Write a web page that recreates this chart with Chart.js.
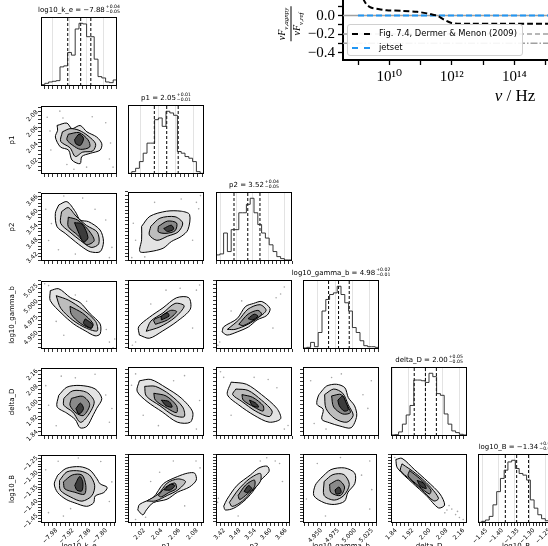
<!DOCTYPE html>
<html><head><meta charset="utf-8">
<script src="https://cdn.jsdelivr.net/npm/chart.js@4.4.1/dist/chart.umd.min.js"></script>
<style>
html,body{margin:0;padding:0;background:#fff;}
body{width:548px;height:546px;overflow:hidden;position:relative;font-family:"DejaVu Sans",sans-serif;color:#000;}
canvas{position:absolute;}
.ttl{position:absolute;font-size:7px;white-space:nowrap;line-height:11px;height:11px;transform:translateX(-50%);}
.ss{display:inline-block;vertical-align:middle;font-size:4.6px;line-height:4.8px;margin-left:1px;}
.ss span{display:block;}
.ylab{position:absolute;font-size:7px;white-space:nowrap;transform:translate(-50%,-50%) rotate(-90deg);}
.xlab{position:absolute;font-size:7px;white-space:nowrap;transform:translateX(-50%);}
.lg{position:absolute;left:347px;top:24px;width:174px;height:30px;background:rgba(255,255,255,0.9);border:1px solid #d0d0d0;border-radius:3px;font-size:8.4px;}
.lg .row{position:absolute;left:4px;height:12px;line-height:12px;white-space:nowrap;}
.lg .smp{display:inline-block;width:18px;height:0;border-top:2px dashed #000;vertical-align:middle;margin-right:9px;}
.frac{position:absolute;left:291px;top:24px;transform:translate(-50%,-50%) rotate(-90deg);font-family:"Liberation Serif",serif;font-style:italic;font-size:10px;text-align:center;line-height:10px;}
.frac .num{border-bottom:1px solid #000;padding:0 1px;}
.nul{position:absolute;left:515px;top:86px;transform:translateX(-50%);font-family:"Liberation Serif",serif;font-size:17px;white-space:nowrap;}
</style></head><body>
<script>
// ---------------- corner plot data ----------------
const paramNames = ['log10_k_e','p1','p2','log10_gamma_b','delta_D','log10_B'];
const axisMin = [-8.022, 2.006, 3.403, 4.929, 1.835, -1.465];
const axisMax = [-7.752, 2.092, 3.690, 5.038, 2.195, -1.227];
const majorTicks = [[-7.98,-7.92,-7.86,-7.80],[2.02,2.04,2.06,2.08],[3.42,3.48,3.54,3.60,3.66],[4.950,4.975,5.000,5.025],[1.84,1.92,2.00,2.08,2.16],[-1.45,-1.40,-1.35,-1.30,-1.25]];
const majorTickLabels = [['−7.98','−7.92','−7.86','−7.80'],['2.02','2.04','2.06','2.08'],['3.42','3.48','3.54','3.60','3.66'],['4.950','4.975','5.000','5.025'],['1.84','1.92','2.00','2.08','2.16'],['−1.45','−1.40','−1.35','−1.30','−1.25']];
const minorDiv = [4,4,4,4,4,5];
const q16 = [-7.927, 2.0358, 3.471, 4.9657, 1.945, -1.378];
const q50 = [-7.881, 2.0498, 3.523, 4.980, 1.998, -1.342];
const q84 = [-7.845, 2.0628, 3.569, 4.9953, 2.050, -1.304];
const titleValue = ['−7.88','2.05','3.52','4.98','2.00','−1.34'];
const titlePlus = ['+0.04','+0.01','+0.04','+0.02','+0.05','+0.04'];
const titleMinus = ['−0.05','−0.01','−0.05','−0.01','−0.05','−0.04'];

const hist_log10_k_e = [4, 8, 12, 14, 16, 57, 60, 100, 92, 170, 187, 185, 147, 147, 80, 28, 24, 12, 10, 18];
const hist_p1 = [2, 7, 17, 37, 62, 92, 92, 162, 167, 142, 187, 182, 175, 67, 62, 52, 47, 37, 7, 2];
const hist_p2 = [18, 21, 83, 28, 93, 93, 143, 143, 168, 186, 143, 108, 83, 68, 48, 28, 13, 7, 3, 3];
const hist_log10_gamma_b = [3, 5, 20, 7, 50, 115, 150, 165, 170, 190, 165, 140, 115, 65, 50, 25, 10, 7, 7, 5];
const hist_delta_D = [3, 4, 12, 35, 62, 90, 165, 165, 163, 158, 185, 175, 125, 120, 65, 35, 15, 10, 5, 3];
const hist_log10_B = [2, 5, 9, 20, 55, 95, 135, 160, 185, 190, 165, 150, 145, 130, 70, 45, 25, 13, 7, 5];
const histCounts = [hist_log10_k_e, hist_p1, hist_p2, hist_log10_gamma_b, hist_delta_D, hist_log10_B];

// contour outlines [2sigma, 1.5sigma, 1sigma, 0.5sigma], each a list of [x, y]
const cont_p1_k_e = [
 [[-7.965,2.067],[-7.930,2.070],[-7.912,2.063],[-7.883,2.067],[-7.859,2.059],[-7.824,2.0525],[-7.806,2.044],[-7.812,2.036],[-7.847,2.032],[-7.877,2.028],[-7.883,2.019],[-7.912,2.0235],[-7.924,2.036],[-7.953,2.040],[-7.971,2.0525],[-7.963,2.061]],
 [[-7.946,2.059],[-7.919,2.063],[-7.887,2.061],[-7.855,2.054],[-7.828,2.044],[-7.838,2.035],[-7.874,2.0335],[-7.900,2.028],[-7.919,2.039],[-7.952,2.047]],
 [[-7.925,2.056],[-7.887,2.058],[-7.855,2.049],[-7.849,2.040],[-7.882,2.037],[-7.909,2.042],[-7.930,2.049]],
 [[-7.903,2.049],[-7.887,2.056],[-7.871,2.051],[-7.882,2.042],[-7.898,2.044]]];
const scat_p1_k_e = [[-8.000,2.0774],[-7.944,2.0765],[-7.779,2.0249],[-7.860,2.0146],[-7.987,2.0361],[-7.792,2.0705],[-7.766,2.0146],[-7.955,2.0850],[-7.990,2.0600],[-7.840,2.0780],[-7.905,2.0120],[-7.775,2.0450],[-7.930,2.0180]];

const cont_p2_k_e = [
 [[-7.959,3.638],[-7.930,3.652],[-7.900,3.610],[-7.883,3.575],[-7.853,3.568],[-7.812,3.533],[-7.800,3.484],[-7.812,3.442],[-7.847,3.442],[-7.877,3.463],[-7.900,3.484],[-7.936,3.519],[-7.965,3.547],[-7.971,3.603]],
 [[-7.949,3.610],[-7.925,3.627],[-7.898,3.592],[-7.860,3.552],[-7.822,3.524],[-7.817,3.475],[-7.844,3.460],[-7.882,3.489],[-7.919,3.524],[-7.952,3.561]],
 [[-7.925,3.587],[-7.892,3.575],[-7.855,3.535],[-7.833,3.489],[-7.860,3.472],[-7.892,3.512],[-7.925,3.547]],
 [[-7.903,3.564],[-7.876,3.558],[-7.855,3.501],[-7.871,3.483],[-7.887,3.518]]];
const scat_p2_k_e = [[-7.874,3.667],[-7.941,3.676],[-7.779,3.417],[-7.995,3.489],[-7.792,3.575],[-7.900,3.432],[-8.005,3.620],[-7.770,3.460],[-7.830,3.620],[-7.960,3.450],[-7.985,3.560]];

const cont_p2_p1 = [
 [[2.0214,3.547],[2.0308,3.589],[2.0495,3.610],[2.0664,3.610],[2.0757,3.596],[2.0738,3.533],[2.0662,3.505],[2.0551,3.484],[2.0457,3.456],[2.0308,3.442],[2.0195,3.442],[2.0214,3.491]],
 [[2.0318,3.547],[2.0421,3.581],[2.0593,3.587],[2.0679,3.561],[2.0628,3.524],[2.0507,3.506],[2.0387,3.489],[2.0301,3.512]],
 [[2.0404,3.547],[2.0507,3.569],[2.0610,3.561],[2.0593,3.529],[2.0490,3.518],[2.0404,3.524]],
 [[2.0464,3.538],[2.0550,3.552],[2.0576,3.535],[2.0507,3.526]]];
const scat_p2_p1 = [[2.0146,3.489],[2.0834,3.647],[2.0791,3.489],[2.0361,3.647],[2.0103,3.417],[2.0662,3.661],[2.0860,3.620],[2.0120,3.560],[2.0880,3.675],[2.0250,3.420]];

const cont_gamma_k_e = [
 [[-7.989,5.022],[-7.959,5.025],[-7.918,5.011],[-7.883,5.003],[-7.847,4.985],[-7.812,4.969],[-7.812,4.953],[-7.830,4.950],[-7.865,4.958],[-7.906,4.969],[-7.947,4.985],[-7.989,5.006]],
 [[-7.968,5.014],[-7.925,5.007],[-7.874,4.992],[-7.828,4.973],[-7.822,4.958],[-7.860,4.962],[-7.909,4.975],[-7.952,4.994]],
 [[-7.919,4.997],[-7.874,4.986],[-7.838,4.970],[-7.844,4.962],[-7.882,4.970],[-7.914,4.984]],
 [[-7.865,4.977],[-7.838,4.968],[-7.844,4.962],[-7.871,4.970]]];
const scat_gamma_k_e = [[-7.779,4.940],[-8.009,5.033],[-7.860,5.005],[-7.941,4.951],[-7.766,4.931],[-7.968,4.973],[-7.790,4.960],[-7.995,5.030],[-7.760,4.945],[-7.900,5.015]];

const cont_gamma_p1 = [
 [[2.0189,4.951],[2.0301,4.946],[2.0447,4.957],[2.0619,4.973],[2.0765,4.992],[2.0748,5.010],[2.0610,5.010],[2.0456,4.994],[2.0301,4.979],[2.0180,4.964]],
 [[2.0266,4.957],[2.0421,4.964],[2.0593,4.979],[2.0696,4.997],[2.0593,5.001],[2.0456,4.986],[2.0318,4.973]],
 [[2.0370,4.968],[2.0507,4.975],[2.0610,4.988],[2.0542,4.990],[2.0438,4.981],[2.0352,4.975]],
 [[2.0438,4.975],[2.0524,4.981],[2.0507,4.986],[2.0438,4.981]]];
const scat_gamma_p1 = [[2.0146,4.940],[2.0834,5.022],[2.0490,5.022],[2.0318,5.000],[2.0791,4.962],[2.0870,5.030],[2.0110,4.935],[2.0650,5.025]];

const cont_gamma_p2 = [
 [[3.426,4.956],[3.432,4.964],[3.483,4.977],[3.514,4.996],[3.545,5.001],[3.576,5.004],[3.607,4.993],[3.595,4.982],[3.558,4.975],[3.526,4.964],[3.483,4.956],[3.445,4.951]],
 [[3.446,4.960],[3.489,4.975],[3.524,4.992],[3.569,4.999],[3.592,4.990],[3.561,4.978],[3.524,4.968],[3.475,4.960]],
 [[3.489,4.968],[3.524,4.984],[3.561,4.990],[3.575,4.984],[3.547,4.975],[3.506,4.966]],
 [[3.524,4.977],[3.547,4.984],[3.561,4.981],[3.541,4.975]]];
const scat_gamma_p2 = [[3.417,4.940],[3.460,4.989],[3.647,5.016],[3.618,4.962],[3.661,5.027],[3.630,5.010],[3.410,4.935],[3.500,5.005]];

const cont_delta_k_e = [
 [[-7.959,2.049],[-7.930,2.092],[-7.883,2.101],[-7.830,2.083],[-7.806,2.032],[-7.824,1.981],[-7.836,1.947],[-7.859,1.886],[-7.883,1.878],[-7.900,1.921],[-7.930,1.955],[-7.965,1.989]],
 [[-7.941,2.033],[-7.909,2.073],[-7.860,2.065],[-7.833,2.015],[-7.855,1.943],[-7.882,1.907],[-7.909,1.961],[-7.941,1.997]],
 [[-7.914,2.033],[-7.874,2.044],[-7.849,2.001],[-7.871,1.943],[-7.898,1.957],[-7.919,1.997]],
 [[-7.898,1.979],[-7.882,2.008],[-7.871,1.979],[-7.887,1.950]]];
const scat_delta_k_e = [[-7.995,1.997],[-7.792,2.051],[-7.900,2.141],[-7.968,1.889],[-7.779,1.907],[-7.950,2.150],[-7.770,1.980],[-8.005,2.100],[-7.830,2.160]];

const cont_delta_p1 = [
 [[2.0189,2.123],[2.0318,2.130],[2.0490,2.087],[2.0662,2.033],[2.0791,1.961],[2.0765,1.907],[2.0619,1.907],[2.0447,1.961],[2.0275,2.015],[2.0163,2.069]],
 [[2.0249,2.094],[2.0370,2.094],[2.0533,2.051],[2.0679,1.986],[2.0696,1.936],[2.0576,1.943],[2.0421,1.993],[2.0266,2.044]],
 [[2.0352,2.058],[2.0490,2.044],[2.0610,1.993],[2.0610,1.957],[2.0507,1.979],[2.0370,2.022]],
 [[2.0438,2.022],[2.0524,2.015],[2.0559,1.986],[2.0490,1.993]]];
const scat_delta_p1 = [[2.0146,2.159],[2.0834,1.871],[2.0404,1.889],[2.0576,2.123],[2.0232,1.943],[2.0870,2.020],[2.0100,2.100],[2.0700,2.150]];

const cont_delta_p2 = [
 [[3.460,2.116],[3.518,2.105],[3.575,2.051],[3.633,1.979],[3.647,1.925],[3.604,1.907],[3.547,1.943],[3.489,1.997],[3.446,2.051]],
 [[3.478,2.080],[3.524,2.073],[3.575,2.022],[3.615,1.965],[3.604,1.936],[3.552,1.965],[3.501,2.015],[3.466,2.051]],
 [[3.501,2.051],[3.541,2.037],[3.581,1.993],[3.581,1.965],[3.547,1.986],[3.506,2.022]],
 [[3.529,2.022],[3.552,2.008],[3.564,1.986],[3.541,1.993]]];
const scat_delta_p2 = [[3.432,2.141],[3.661,1.871],[3.547,2.141],[3.460,1.943],[3.633,2.087],[3.420,2.170],[3.675,1.890],[3.600,2.130]];

const cont_delta_gamma = [
 [[4.956,2.070],[4.963,2.096],[4.977,2.105],[4.989,2.087],[4.994,2.035],[5.003,1.992],[5.006,1.939],[4.998,1.878],[4.982,1.887],[4.967,1.904],[4.956,1.922],[4.958,1.974],[4.949,2.000],[4.951,2.044]],
 [[4.960,2.051],[4.973,2.080],[4.986,2.058],[4.994,1.997],[5.001,1.943],[4.992,1.907],[4.975,1.925],[4.962,1.979]],
 [[4.970,2.044],[4.984,2.051],[4.992,1.997],[4.997,1.957],[4.986,1.950],[4.973,1.986]],
 [[4.979,2.022],[4.986,2.044],[4.990,2.015],[4.994,1.972],[4.988,1.965],[4.981,1.993]]];
const scat_delta_gamma = [[5.022,1.979],[4.940,2.123],[4.984,2.159],[4.962,1.871],[5.027,2.123],[4.970,2.140],[5.015,2.050],[4.945,1.900]];

const cont_B_k_e = [
 [[-7.962,-1.299],[-7.931,-1.275],[-7.882,-1.269],[-7.845,-1.281],[-7.820,-1.311],[-7.808,-1.329],[-7.783,-1.341],[-7.795,-1.359],[-7.826,-1.371],[-7.832,-1.395],[-7.857,-1.407],[-7.900,-1.395],[-7.931,-1.383],[-7.962,-1.359],[-7.974,-1.329]],
 [[-7.955,-1.317],[-7.928,-1.287],[-7.882,-1.284],[-7.847,-1.298],[-7.828,-1.334],[-7.838,-1.370],[-7.874,-1.389],[-7.914,-1.375],[-7.952,-1.351]],
 [[-7.941,-1.322],[-7.909,-1.298],[-7.874,-1.298],[-7.860,-1.334],[-7.865,-1.365],[-7.900,-1.358],[-7.936,-1.346]],
 [[-7.900,-1.334],[-7.882,-1.303],[-7.871,-1.322],[-7.874,-1.353],[-7.892,-1.351]]];
const scat_B_k_e = [[-7.995,-1.429],[-7.766,-1.322],[-7.887,-1.239],[-7.941,-1.441],[-7.806,-1.251],[-7.915,-1.415],[-8.005,-1.280],[-7.775,-1.390],[-7.960,-1.250]];

const cont_B_p1 = [
 [[2.0171,-1.420],[2.0191,-1.401],[2.0347,-1.377],[2.0465,-1.329],[2.0622,-1.305],[2.0739,-1.293],[2.0818,-1.293],[2.0837,-1.317],[2.0759,-1.341],[2.0622,-1.359],[2.0504,-1.383],[2.0347,-1.395],[2.0269,-1.420],[2.0229,-1.437]],
 [[2.0275,-1.389],[2.0404,-1.365],[2.0507,-1.327],[2.0628,-1.313],[2.0714,-1.322],[2.0628,-1.351],[2.0507,-1.370],[2.0370,-1.389]],
 [[2.0404,-1.370],[2.0490,-1.341],[2.0593,-1.327],[2.0610,-1.346],[2.0524,-1.360],[2.0438,-1.375]],
 [[2.0473,-1.351],[2.0542,-1.332],[2.0593,-1.336],[2.0542,-1.351]]];
const scat_B_p1 = [[2.0146,-1.453],[2.0834,-1.251],[2.0576,-1.251],[2.0318,-1.322],[2.0705,-1.406],[2.0260,-1.445],[2.0880,-1.275],[2.0420,-1.290]];

const cont_B_p2 = [
 [[3.433,-1.407],[3.446,-1.383],[3.485,-1.335],[3.537,-1.299],[3.570,-1.275],[3.602,-1.269],[3.609,-1.287],[3.577,-1.317],[3.544,-1.359],[3.511,-1.390],[3.472,-1.414],[3.439,-1.420]],
 [[3.455,-1.394],[3.489,-1.351],[3.532,-1.313],[3.575,-1.294],[3.575,-1.322],[3.541,-1.356],[3.506,-1.389],[3.466,-1.408]],
 [[3.489,-1.370],[3.518,-1.334],[3.552,-1.317],[3.552,-1.341],[3.524,-1.365],[3.495,-1.384]],
 [[3.512,-1.356],[3.529,-1.336],[3.541,-1.346],[3.524,-1.360]]];
const scat_B_p2 = [[3.409,-1.394],[3.633,-1.251],[3.575,-1.251],[3.489,-1.441],[3.661,-1.322],[3.412,-1.380],[3.650,-1.260],[3.600,-1.240]];

const cont_B_gamma = [
 [[4.955,-1.311],[4.970,-1.281],[4.990,-1.275],[5.005,-1.293],[5.005,-1.329],[4.995,-1.359],[4.990,-1.390],[4.975,-1.401],[4.960,-1.395],[4.945,-1.371],[4.947,-1.335]],
 [[4.960,-1.322],[4.973,-1.298],[4.989,-1.298],[4.997,-1.332],[4.989,-1.370],[4.975,-1.386],[4.960,-1.370]],
 [[4.968,-1.332],[4.981,-1.317],[4.990,-1.341],[4.984,-1.370],[4.970,-1.360]],
 [[4.976,-1.351],[4.982,-1.341],[4.985,-1.360],[4.978,-1.365]]];
const scat_B_gamma = [[4.934,-1.382],[5.027,-1.251],[4.984,-1.239],[4.962,-1.441],[5.027,-1.417],[5.015,-1.300],[4.950,-1.260],[5.030,-1.350]];

const cont_B_delta = [
 [[1.858,-1.246],[1.887,-1.242],[1.945,-1.280],[2.009,-1.322],[2.067,-1.365],[2.089,-1.403],[2.060,-1.413],[2.002,-1.370],[1.937,-1.327],[1.865,-1.275]],
 [[1.887,-1.261],[1.952,-1.294],[2.017,-1.337],[2.060,-1.380],[2.038,-1.389],[1.981,-1.351],[1.923,-1.313],[1.880,-1.284]],
 [[1.923,-1.284],[1.973,-1.313],[2.024,-1.351],[2.017,-1.365],[1.966,-1.337],[1.916,-1.303]],
 [[1.959,-1.318],[1.988,-1.327],[2.002,-1.346],[1.973,-1.337]]];
const scat_B_delta = [[2.141,-1.436],[2.159,-1.446],[2.123,-1.417],[1.853,-1.239],[2.177,-1.453],[2.100,-1.420],[2.110,-1.405],[2.150,-1.425],[2.090,-1.430]];

// ---------------- inset (SED ratio) data ----------------
const dmLogNu = [8.8, 9.0, 9.26, 9.43, 9.59, 9.91, 10.45, 10.89, 11.21, 11.43, 11.54, 11.75, 11.97, 12.18, 12.6, 13.5, 14.5, 15.5, 16.3];
const dmRatio = [0.45, 0.30, 0.125, 0.085, 0.074, 0.058, 0.051, 0.041, 0.024, 0.007, 0.0, -0.044, -0.078, -0.088, -0.089, -0.089, -0.089, -0.089, -0.089];
const jetsetLogNu = [9.0, 16.5];
const jetsetRatio = [0.0, 0.0];
const refLevels = [0.0, 0.2, -0.2, 0.3, -0.3];
const insetYTicks = [-0.4, -0.2, 0.0];
const insetYTickLabels = ['−0.4', '−0.2', '0.0'];
const insetXTicksExp = [10, 12, 14, 16];
const insetXTickLabels = ['10¹⁰', '10¹²', '10¹⁴', '10¹⁶'];

// ---------------- layout ----------------
const colX = [41, 128, 216, 303, 391, 478];
const rowY = [17, 105, 192, 280, 367, 454];
const PW = 76, PH = 69, ML = 38, MT = 4, MR = 4, MB = 30;

Chart.defaults.font.family = '"DejaVu Sans", sans-serif';

const frame = {id:'frame', afterDatasetsDraw(chart){
  const a = chart.chartArea, ctx = chart.ctx;
  ctx.save(); ctx.strokeStyle = '#000'; ctx.lineWidth = 1;
  ctx.strokeRect(Math.round(a.left)+0.5, Math.round(a.top)+0.5, Math.round(a.right-a.left)-1, Math.round(a.bottom-a.top)-1);
  ctx.restore();
}};

function tickObjs(i){
  const maj = majorTicks[i], labs = majorTickLabels[i], d = minorDiv[i];
  const step = (maj[1]-maj[0])/d;
  const out = [];
  const kmin = Math.ceil((axisMin[i]-maj[0])/step - 1e-9);
  const kmax = Math.floor((axisMax[i]-maj[0])/step + 1e-9);
  for (let k = kmin; k <= kmax; k++) {
    const v = maj[0] + k*step;
    let lab = '';
    if (((k % d) + d) % d === 0) { const j = Math.round(k/d); if (j >= 0 && j < labs.length) lab = labs[j]; }
    out.push({value: v, lab});
  }
  return out;
}

function pts(arr){ return arr.map(p => ({x:p[0], y:p[1]})); }

function polyDs(poly, col, ord){
  const d = pts(poly); d.push({x:poly[0][0], y:poly[0][1]});
  return {data:d, fill:'shape', backgroundColor:col, borderColor:'#000', borderWidth:1, pointRadius:0, tension:0.3, order:ord};
}

function contourDatasets(cont, scat){
  const fills = ['#e3e3e3', '#bdbdbd', '#8a8a8a', '#3c3c3c'];
  const ds = [];
  // lower "order" is drawn on top: innermost (k=3) gets order 0
  for (let k = 3; k >= 0; k--) ds.push(polyDs(cont[k], fills[k], 3 - k));
  ds.push({data:pts(scat), showLine:false, pointRadius:0.8, pointBackgroundColor:'rgba(0,0,0,0.35)', pointBorderWidth:0, order:5});
  return ds;
}

function histDatasets(i){
  const c = histCounts[i], n = c.length, lo = axisMin[i], hi = axisMax[i];
  const w = (hi-lo)/n;
  const d = [{x:lo, y:0}];
  for (let b = 0; b < n; b++) d.push({x: lo + b*w, y: c[b]});
  d.push({x: hi, y: c[n-1]}); d.push({x: hi, y: 0});
  const top = 1.1*Math.max(...c);
  const ds = [{data:d, stepped:true, borderColor:'#222', borderWidth:0.9, pointRadius:0, fill:false}];
  [q16[i], q50[i], q84[i]].forEach(q => ds.push({data:[{x:q,y:0},{x:q,y:top}], borderColor:'#000', borderWidth:1, borderDash:[3,2], pointRadius:0, fill:false}));
  return {ds, top};
}

function makePanel(r, c, datasets, diag, yTop){
  const cv = document.createElement('canvas');
  cv.width = PW+ML+MR; cv.height = PH+MT+MB;
  cv.style.left = (colX[c]-ML)+'px'; cv.style.top = (rowY[r]-MT)+'px';
  document.body.appendChild(cv);
  const xi = c;
  const yScale = diag ? {
      type:'linear', min:0, max:yTop, afterFit:s=>{s.width = ML;},
      ticks:{display:false}, grid:{display:false}, border:{display:false}
    } : {
      type:'linear', min:axisMin[r], max:axisMax[r],
      afterBuildTicks:s=>{s.ticks = tickObjs(r);}, afterFit:s=>{s.width = ML;},
      ticks:{display:c===0, autoSkip:false, minRotation:45, maxRotation:45, font:{size:6}, color:'#000', padding:1, labelOffset:-4,
             callback:(v,i,t)=>t[i].lab||''},
      grid:{drawOnChartArea:false, tickColor:'#000', tickLength:3, tickWidth:0.8}, border:{display:false}
    };
  new Chart(cv, {
    type:'line',
    data:{datasets},
    options:{
      responsive:false, animation:false, devicePixelRatio:1, events:[],
      layout:{padding:{left:0, top:MT, right:MR, bottom:0}},
      plugins:{legend:{display:false}, tooltip:{enabled:false}},
      scales:{
        x:{type:'linear', min:axisMin[xi], max:axisMax[xi],
           afterBuildTicks:s=>{s.ticks = tickObjs(xi);}, afterFit:s=>{s.height = MB;},
           ticks:{display:r===5, autoSkip:false, minRotation:45, maxRotation:45, font:{size:6}, color:'#000', padding:1, labelOffset:4,
                  callback:(v,i,t)=>t[i].lab||''},
           grid:{drawOnChartArea:diag, color:ctx=>(ctx.tick && ctx.tick.lab) ? '#dcdcdc' : 'rgba(0,0,0,0)', lineWidth:0.8,
                 tickColor:'#000', tickLength:3, tickWidth:0.8},
           border:{display:false}},
        y:yScale
      }
    },
    plugins:[frame]
  });
}

const contourTable = {
  '1,0':[cont_p1_k_e, scat_p1_k_e],
  '2,0':[cont_p2_k_e, scat_p2_k_e], '2,1':[cont_p2_p1, scat_p2_p1],
  '3,0':[cont_gamma_k_e, scat_gamma_k_e], '3,1':[cont_gamma_p1, scat_gamma_p1], '3,2':[cont_gamma_p2, scat_gamma_p2],
  '4,0':[cont_delta_k_e, scat_delta_k_e], '4,1':[cont_delta_p1, scat_delta_p1], '4,2':[cont_delta_p2, scat_delta_p2], '4,3':[cont_delta_gamma, scat_delta_gamma],
  '5,0':[cont_B_k_e, scat_B_k_e], '5,1':[cont_B_p1, scat_B_p1], '5,2':[cont_B_p2, scat_B_p2], '5,3':[cont_B_gamma, scat_B_gamma], '5,4':[cont_B_delta, scat_B_delta]
};

for (let r = 0; r < 6; r++) {
  for (let c = 0; c <= r; c++) {
    if (r === c) {
      const h = histDatasets(r);
      makePanel(r, c, h.ds, true, h.top);
      const t = document.createElement('div');
      t.className = 'ttl';
      t.style.left = (colX[c] + PW/2) + 'px'; t.style.top = (rowY[r] - 12) + 'px';
      t.innerHTML = paramNames[r] + ' = ' + titleValue[r] + '<span class="ss"><span>' + titlePlus[r] + '</span><span>' + titleMinus[r] + '</span></span>';
      document.body.appendChild(t);
    } else {
      const e = contourTable[r + ',' + c];
      makePanel(r, c, contourDatasets(e[0], e[1]), false, 0);
    }
  }
}
for (let r = 1; r < 6; r++) {
  const d = document.createElement('div'); d.className = 'ylab';
  d.style.left = '12px'; d.style.top = (rowY[r] + PH/2) + 'px'; d.textContent = paramNames[r];
  document.body.appendChild(d);
}
for (let c = 0; c < 6; c++) {
  const d = document.createElement('div'); d.className = 'xlab';
  d.style.left = (colX[c] + PW/2) + 'px'; d.style.top = '542px'; d.textContent = paramNames[c];
  document.body.appendChild(d);
}

// ---------------- inset ----------------
(function(){
  const IL = 270, ITOP = -60, IW = 330, IH = 165, IML = 73, IMT = 5, IMR = 5, IMB = 45;
  const cv = document.createElement('canvas');
  cv.width = IW; cv.height = IH; cv.style.left = IL + 'px'; cv.style.top = ITOP + 'px';
  document.body.appendChild(cv);
  const xmin = Math.pow(10, 8.52), xmax = Math.pow(10, 16.58);
  const ds = [];
  ds.push({data: dmLogNu.map((e,i)=>({x:Math.pow(10,e), y:dmRatio[i]})), borderColor:'#000', borderWidth:2, borderDash:[6,3], pointRadius:0, fill:false, tension:0.3, order:0});
  ds.push({data: jetsetLogNu.map((e,i)=>({x:Math.pow(10,e), y:jetsetRatio[i]})), borderColor:'#2196f3', borderWidth:2, borderDash:[6,3], pointRadius:0, fill:false, order:1});
  refLevels.forEach((lv, k) => {
    const dash = k === 0 ? [] : (Math.abs(lv) < 0.25 ? [5,3] : [7,2,1.5,2]);
    ds.push({data:[{x:xmin, y:lv},{x:xmax, y:lv}], borderColor:'#a0a0a0', borderWidth:1.5, borderDash:dash, pointRadius:0, fill:false, order:2});
  });
  const yT = [];
  insetYTicks.forEach((v,i)=>{ yT.push({value:v, lab:insetYTickLabels[i]}); });
  [-0.3,-0.1,0.1,0.2,0.3,0.4,0.5,0.6].forEach(v=>yT.push({value:v, lab:''}));
  yT.sort((a,b)=>a.value-b.value);
  const xT = [];
  insetXTicksExp.forEach((e,i)=>xT.push({value:Math.pow(10,e), lab:insetXTickLabels[i]}));
  [9,11,13,15].forEach(e=>xT.push({value:Math.pow(10,e), lab:''}));
  xT.sort((a,b)=>a.value-b.value);
  new Chart(cv, {
    type:'line', data:{datasets:ds},
    options:{
      responsive:false, animation:false, devicePixelRatio:1, events:[],
      layout:{padding:{left:0, top:IMT, right:IMR, bottom:0}},
      plugins:{legend:{display:false}, tooltip:{enabled:false}},
      scales:{
        x:{type:'logarithmic', min:xmin, max:xmax, afterBuildTicks:s=>{s.ticks = xT.map(t=>({...t}));}, afterFit:s=>{s.height = IMB;},
           ticks:{autoSkip:false, maxRotation:0, font:{family:'"Liberation Serif", "DejaVu Serif", serif', size:15}, color:'#000', padding:3,
                  callback:(v,i,t)=>t[i].lab||''},
           grid:{drawOnChartArea:false, tickColor:'#000', tickLength:5, tickWidth:1.3},
           border:{display:true, color:'#000', width:2}},
        y:{type:'linear', min:-0.48, max:0.6875, afterBuildTicks:s=>{s.ticks = yT.map(t=>({...t}));}, afterFit:s=>{s.width = IML;},
           ticks:{autoSkip:false, font:{family:'"Liberation Serif", "DejaVu Serif", serif', size:15}, color:'#000', padding:3,
                  callback:(v,i,t)=>t[i].lab||''},
           grid:{drawOnChartArea:false, tickColor:'#000', tickLength:5, tickWidth:1.3},
           border:{display:true, color:'#000', width:2}}
      }
    }
  });
  const lg = document.createElement('div'); lg.className = 'lg';
  lg.innerHTML = '<div class="row" style="top:2px"><span class="smp"></span>Fig. 7.4, Dermer &amp; Menon (2009)</div>' +
                 '<div class="row" style="top:16px"><span class="smp" style="border-top-color:#2196f3"></span>jetset</div>';
  document.body.appendChild(lg);
  const fr = document.createElement('div'); fr.className = 'frac';
  fr.innerHTML = '<div class="num">νF<sub style="font-size:7px">ν,agnpy</sub></div><div>νF<sub style="font-size:7px">ν,ref</sub></div>';
  document.body.appendChild(fr);
  const nl = document.createElement('div'); nl.className = 'nul';
  nl.innerHTML = '<i>ν</i> / Hz';
  document.body.appendChild(nl);
})();
</script>
</body></html>
